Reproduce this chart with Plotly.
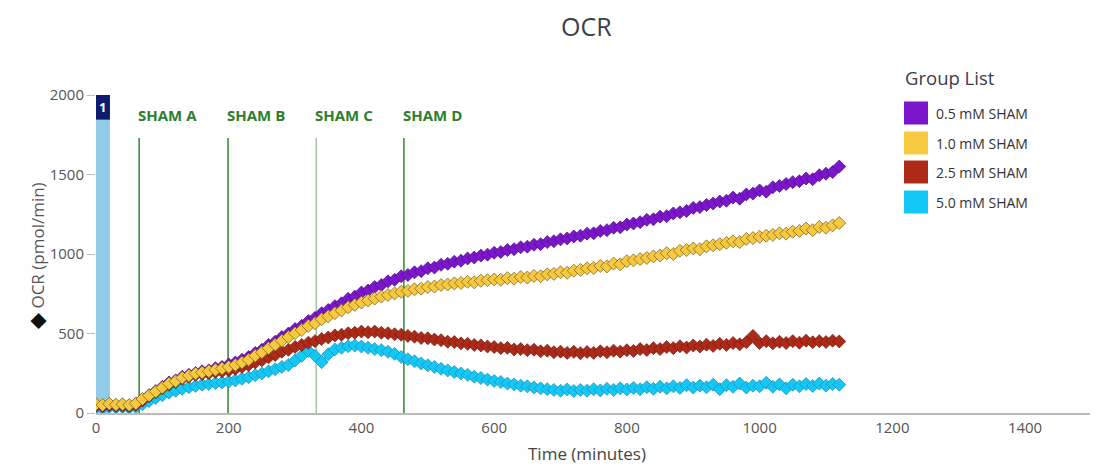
import plotly.graph_objects as go

# ---- data ----
time_min = list(range(0, 1130, 10))

sham_05 = [50, 45, 55, 48, 52, 47, 58, 85, 112, 138, 165, 192, 205, 228, 240, 252, 262, 268, 282, 290,
           305, 318, 335, 352, 378, 398, 428, 448, 478, 500, 528, 548, 578, 598, 628, 648, 672, 690, 718, 732,
           758, 770, 792, 805, 828, 838, 860, 868, 885, 892, 910, 915, 932, 938, 952, 958, 972, 978, 990, 996,
           1008, 1012, 1025, 1030, 1042, 1046, 1058, 1062, 1075, 1080, 1092, 1098, 1110, 1115, 1128, 1130, 1145, 1150, 1165, 1168,
           1185, 1192, 1200, 1215, 1218, 1235, 1238, 1255, 1262, 1270, 1290, 1295, 1308, 1318, 1330, 1335, 1355, 1348, 1375, 1380,
           1400, 1392, 1420, 1428, 1440, 1452, 1458, 1475, 1470, 1495, 1505, 1515, 1550]

sham_10 = [55, 50, 58, 52, 55, 50, 60, 88, 110, 135, 160, 185, 200, 222, 235, 248, 255, 262, 272, 280,
           290, 302, 318, 335, 360, 382, 408, 430, 455, 478, 502, 522, 548, 565, 590, 608, 628, 645, 665, 680,
           695, 708, 720, 732, 742, 752, 762, 768, 778, 782, 792, 795, 805, 808, 815, 818, 825, 822, 832, 835,
           840, 838, 848, 845, 855, 852, 862, 860, 872, 875, 885, 882, 895, 900, 910, 912, 925, 922, 940, 935,
           955, 960, 968, 975, 985, 990, 1005, 1000, 1020, 1025, 1035, 1030, 1048, 1055, 1062, 1070, 1080, 1075, 1095, 1100,
           1108, 1115, 1120, 1130, 1128, 1140, 1145, 1160, 1150, 1170, 1165, 1180, 1195]

sham_25 = [45, 42, 48, 44, 46, 42, 50, 78, 105, 130, 155, 178, 195, 215, 228, 240, 245, 250, 258, 262,
           268, 278, 290, 302, 318, 332, 350, 365, 385, 398, 415, 428, 442, 452, 465, 475, 488, 492, 502, 505,
           512, 508, 512, 505, 502, 495, 492, 485, 480, 472, 470, 462, 458, 448, 446, 438, 435, 428, 425, 418,
           415, 408, 410, 400, 402, 395, 398, 388, 392, 382, 386, 378, 385, 376, 384, 378, 388, 382, 392, 386,
           395, 390, 402, 396, 408, 402, 415, 408, 420, 412, 425, 418, 430, 422, 435, 428, 440, 432, 445, 485,
           440, 452, 438, 448, 440, 452, 442, 455, 445, 452, 446, 455, 450]

sham_50 = [35, 32, 38, 34, 36, 32, 38, 55, 75, 95, 112, 128, 140, 152, 162, 170, 178, 182, 188, 192,
           198, 205, 215, 225, 238, 248, 262, 275, 290, 302, 330, 360, 390, 360, 320, 370, 400, 410, 420, 425,
           418, 410, 402, 395, 385, 372, 352, 338, 325, 312, 300, 290, 278, 268, 258, 248, 240, 228, 220, 210,
           202, 195, 185, 180, 172, 168, 160, 155, 150, 145, 140, 148, 138, 145, 140, 150, 142, 152, 145, 155,
           148, 158, 150, 162, 152, 165, 155, 168, 158, 175, 160, 172, 162, 178, 150, 175, 165, 185, 160, 172,
           168, 190, 165, 180, 155, 178, 168, 182, 170, 185, 172, 182, 178]

group_names = ["0.5 mM SHAM", "1.0 mM SHAM", "2.5 mM SHAM", "5.0 mM SHAM"]
group_colors = ["#7B16CC", "#F7C940", "#AE2A18", "#14C8F5"]
group_edges = ["#4A0C80", "#6E5A1A", "#6A1A10", "#1A86B0"]

inj_times = [65, 199, 332, 464]
inj_labels = ["SHAM A", "SHAM B", "SHAM C", "SHAM D"]
inj_colors = ["#3F8A3F", "#3F8A3F", "#A9C4A9", "#3F8A3F"]

x_ticks = [0, 200, 400, 600, 800, 1000, 1200, 1400]
y_ticks = [0, 500, 1000, 1500, 2000]

# ---- layout geometry (figure pixels) ----
W, H = 1098, 466
ML, MT, MB, MR = 88, 87, 61, 0
PW, PH = W - ML - MR, H - MT - MB


def px(xpix):
    return (xpix - ML) / PW


def py(ypix):
    return (H - MB - ypix) / PH


FONT = "Open Sans"

fig = go.Figure()

series = [sham_05, sham_10, sham_25, sham_50]
draw_order = [3, 2, 0, 1]
for i in draw_order:
    fig.add_trace(go.Scatter(
        x=time_min, y=series[i], mode="lines+markers",
        line=dict(color=group_colors[i], width=2),
        marker=dict(symbol="diamond", size=10, color=group_colors[i],
                    line=dict(color=group_edges[i], width=0.7)),
        showlegend=False, name=group_names[i]))

shapes = []
annotations = []
# baseline bar
shapes.append(dict(type="rect", xref="x", yref="y", x0=0, x1=21, y0=0, y1=2000,
                   fillcolor="#93CCEA", line=dict(width=0), layer="below"))
shapes.append(dict(type="rect", xref="x", yref="y", x0=0, x1=21, y0=1845, y1=2000,
                   fillcolor="#0E1C6E", line=dict(width=0)))
annotations.append(dict(x=10.5, y=1922, xref="x", yref="y", text="<b>1</b>", showarrow=False,
                        font=dict(color="white", size=13, family=FONT)))

for t, lab, c in zip(inj_times, inj_labels, inj_colors):
    shapes.append(dict(type="line", xref="x", yref="y", x0=t, x1=t, y0=0, y1=1730,
                       line=dict(color=c, width=1.6), layer="below"))
    annotations.append(dict(x=t, y=1872, xref="x", yref="y", text="<b>" + lab + "</b>",
                            showarrow=False, xanchor="left", xshift=-3,
                            font=dict(color="#2E7D2E", size=15, family=FONT)))

# title
annotations.append(dict(x=px(578), y=py(18), xref="paper", yref="paper", text="OCR",
                        showarrow=False, xanchor="center", yanchor="middle",
                        font=dict(size=25, color="#3A404A", family=FONT)))

# y axis title
annotations.append(dict(x=px(12), y=py(248), xref="paper", yref="paper",
                        text="<span style='font-size:21px;color:#111'>◆</span> OCR (pmol/min)",
                        textangle=-90, showarrow=False,
                        font=dict(size=17, color="#555", family=FONT)))

# x axis title
annotations.append(dict(x=px(579), y=py(445), xref="paper", yref="paper", text="Time (minutes)",
                        showarrow=False, xanchor="center", yanchor="middle",
                        font=dict(size=17, color="#444", family=FONT)))

# legend (Group List)
annotations.append(dict(x=px(895), y=py(69), xref="paper", yref="paper", text="Group List",
                        showarrow=False, xanchor="left", yanchor="middle",
                        font=dict(size=18.5, color="#3A404A", family=FONT)))
leg_y = [105, 135, 164, 194]
for name, col, yc in zip(group_names, group_colors, leg_y):
    shapes.append(dict(type="rect", xref="paper", yref="paper",
                       x0=px(896), x1=px(920), y0=py(yc + 11.5), y1=py(yc - 11.5),
                       fillcolor=col, line=dict(width=0)))
    annotations.append(dict(x=px(926), y=py(yc), xref="paper", yref="paper", text=name,
                            showarrow=False, xanchor="left", yanchor="middle",
                            font=dict(size=14, color="#333", family=FONT)))

fig.update_layout(
    width=W, height=H,
    margin=dict(l=ML, r=MR, t=MT, b=MB),
    paper_bgcolor="white", plot_bgcolor="white",
    xaxis=dict(range=[0, 1522], tickvals=x_ticks, showgrid=False, zeroline=False,
               showline=True, linecolor="#BBBBBB", linewidth=1.5, ticks="",
               tickfont=dict(size=15, color="#555", family=FONT)),
    yaxis=dict(range=[0, 2000], tickvals=y_ticks, showgrid=False, zeroline=False,
               showline=False, ticks="outside", ticklen=8, tickcolor="#BBBBBB",
               tickfont=dict(size=15, color="#555", family=FONT)),
    showlegend=False,
    shapes=shapes, annotations=annotations,
)

fig.write_html("out.html")
